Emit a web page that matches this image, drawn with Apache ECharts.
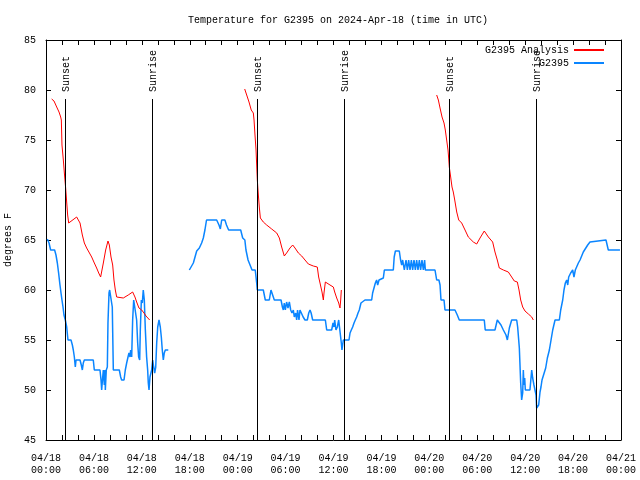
<!DOCTYPE html>
<html>
<head>
<meta charset="utf-8">
<script src="https://cdn.jsdelivr.net/npm/echarts@6/dist/echarts.min.js"></script>
<style>
  html, body { margin: 0; padding: 0; background: #fff; }
  #chart { width: 640px; height: 480px; }
</style>
</head>
<body>
<div id="chart"></div>
<script>
// ---- data (hours since 2024-04-18 00:00 UTC, degrees F) ----
const titleText = 'Temperature for G2395 on 2024-Apr-18 (time in UTC)';
const xTickLabels = ['04/18\n00:00','04/18\n06:00','04/18\n12:00','04/18\n18:00',
  '04/19\n00:00','04/19\n06:00','04/19\n12:00','04/19\n18:00',
  '04/20\n00:00','04/20\n06:00','04/20\n12:00','04/20\n18:00','04/21\n00:00'];
const sunHours = [2.42, 13.3, 26.45, 37.33, 50.52, 61.4];
const sunLabels = ['Sunset','Sunrise','Sunset','Sunrise','Sunset','Sunrise'];

const analysisDay1 = [[0.71,79.1],[1.0,78.9],[1.34,78.3],[1.63,77.8],[1.84,77.3],[1.92,77.0],[2.0,74.5],[2.17,73],[2.3,71.7],[2.46,70.2],[2.59,68.8],[2.71,67.5],[2.84,66.7],[3.84,67.3],[4.05,67.3],[4.26,66.7],[4.55,65.5],[4.8,64.7],[5.09,64.2],[5.72,63.3],[6.05,62.7],[6.34,62.2],[6.6,61.7],[6.84,61.3],[7.18,62.7],[7.47,64],[7.76,64.9],[7.93,64.5],[8.14,63.3],[8.35,62.5],[8.51,61],[8.68,60],[8.85,59.3],[9.68,59.2],[10.3,59.5],[10.85,59.8],[11.14,59.3],[11.35,58.8],[11.64,58.2],[11.98,58],[12.27,57.7],[12.52,57.4],[12.73,57.2],[12.98,57.0]];
const analysisDay2 = [[24.88,80.1],[25.13,79.5],[25.42,78.8],[25.7,78],[25.96,77.7],[26.05,77],[26.17,75.5],[26.3,74],[26.38,72.5],[26.46,71],[26.59,69.5],[26.71,68.3],[26.84,67.2],[27.21,66.8],[27.63,66.5],[28.26,66.1],[28.89,65.7],[29.22,65.2],[29.51,64.3],[29.84,63.4],[30.13,63.7],[30.55,64.2],[30.89,64.5],[31.18,64.2],[31.6,63.7],[32.02,63.4],[32.43,63],[32.85,62.6],[33.47,62.4],[33.97,62.3],[34.14,61.3],[34.31,60.7],[34.56,59.8],[34.73,59],[34.81,59.7],[34.98,60.8],[35.23,60.7],[35.56,60.5],[35.98,60.3],[36.15,59.8],[36.4,59.2],[36.65,58.7],[36.81,58.2],[36.9,59],[36.98,60]];
const analysisDay3 = [[48.92,79.5],[49.13,79],[49.34,78.2],[49.59,77.3],[49.84,76.7],[50.0,76],[50.17,75],[50.34,74],[50.42,73.2],[50.5,72.3],[50.67,71.3],[50.84,70.3],[51.0,69.8],[51.18,69],[51.43,67.8],[51.68,67],[52.05,66.7],[52.47,66],[52.88,65.3],[53.51,64.8],[53.93,64.6],[54.35,65.2],[54.88,65.9],[55.39,65.3],[55.93,64.8],[56.22,63.8],[56.51,63],[56.76,62.2],[57.27,62],[57.89,61.8],[58.31,61.3],[58.64,60.9],[59.02,60.8],[59.23,60],[59.44,59],[59.69,58.3],[59.98,57.9],[60.4,57.6],[60.82,57.3],[61.02,57]];

const stationPart1 = [[0.17,65.1],[0.38,64.7],[0.58,64],[1.08,64],[1.25,63.5],[1.42,62.7],[1.58,61.7],[1.75,60.5],[1.88,59.7],[2.0,59],[2.13,58.3],[2.25,57.5],[2.42,57],[2.59,56.3],[2.75,55],[3.13,55],[3.3,54.5],[3.42,54],[3.55,53.3],[3.67,52.3],[3.76,53],[4.26,53],[4.42,52.5],[4.55,52],[4.67,52.7],[4.8,53],[5.92,53],[6.05,52],[6.76,52],[6.89,51],[6.97,50],[7.1,51.3],[7.18,52],[7.3,50.5],[7.38,52],[7.43,50],[7.55,52],[7.68,52.3],[7.76,56.7],[7.89,59.7],[7.97,60],[8.14,60],[8.3,58.3],[8.43,52],[9.18,52],[9.35,51.3],[9.47,51],[9.77,51],[9.93,52],[10.1,52.7],[10.27,53.3],[10.39,53.7],[10.52,53.3],[10.6,54],[10.73,53.3],[10.85,57],[10.98,59],[11.23,59],[11.35,57],[11.48,54.7],[11.6,53.3],[11.73,53],[11.81,56],[11.94,59],[12.06,58.7],[12.18,60],[12.31,59],[12.44,56],[12.6,53.3],[12.73,52],[12.81,50.7],[12.9,50],[13.02,51.3],[13.23,52],[13.36,53],[13.48,52.3],[13.61,51.7],[13.74,52.3],[13.86,54.7],[13.99,56.3],[14.15,57],[14.31,56.3],[14.44,55.3],[14.56,54],[14.69,53],[14.81,53.7],[14.94,54],[15.31,54]];
const stationPart2 = [[17.95,62],[18.2,62.1],[18.45,62.7],[18.66,63.3],[18.87,63.9],[19.2,64.2],[19.49,64.7],[19.7,65.2],[19.9,66],[20.1,67],[21.37,67],[21.66,66.5],[21.83,66.1],[22.0,67],[22.4,67],[22.6,66.5],[22.87,66],[24.38,66],[24.63,65.2],[24.9,65],[25.04,64],[25.3,63],[25.5,62.8],[25.8,62],[26.2,62],[26.38,60.7],[26.46,60],[27.21,60],[27.46,59],[27.96,59],[28.17,60],[28.38,60],[28.59,59],[29.43,59],[29.6,58.3],[29.72,58],[29.84,58.7],[29.97,58],[30.13,58.8],[30.3,58.2],[30.47,58.8],[30.64,58],[30.8,57.7],[30.97,58],[31.09,57.3],[31.26,57.7],[31.39,57],[31.5,58],[31.68,57],[31.8,58],[32.05,58],[32.2,57.3],[32.43,57],[32.72,57],[32.9,57.7],[33.06,58],[33.2,57.7],[33.39,57],[34.98,57],[35.15,56],[35.77,56],[35.94,56.7],[36.06,56.3],[36.15,57],[36.31,56],[36.48,56.3],[36.65,57],[36.9,57],[36.98,54.7],[37.06,54],[37.23,55],[37.94,55],[38.07,55.7],[38.23,56],[38.4,56.3],[38.57,56.7],[38.73,57],[38.9,57.3],[39.07,57.7],[39.23,58],[39.44,58.7],[39.65,58.9],[39.94,59],[40.78,59],[40.9,59.7],[41.07,60.2],[41.24,60.7],[41.4,61],[41.53,60.5],[41.7,61],[41.82,61.1],[42.24,61.2],[42.37,62],[43.49,62],[43.6,63.3],[43.75,63.9],[44.24,63.9],[44.4,63],[44.54,62.5],[44.66,63],[44.87,62],[45.08,63],[45.25,62],[45.41,63],[45.58,62],[45.75,63],[45.91,62],[46.08,63],[46.25,62],[46.41,63],[46.58,62],[46.75,63],[46.91,62],[47.08,63],[47.25,62],[47.41,63],[47.5,62],[48.71,62],[48.92,61],[49.2,61],[49.34,60.5],[49.46,59],[49.84,59],[49.96,58],[51.21,58],[51.5,57.5],[51.75,57],[54.88,57],[55.0,56],[56.22,56],[56.51,57],[56.68,57],[56.97,56.5],[57.27,56],[57.6,55.5],[57.77,55],[58.02,56.2],[58.31,57],[58.94,57],[59.06,56.3],[59.27,54.2],[59.44,50.7],[59.56,49],[59.69,49.7],[59.77,52],[59.85,50.5],[59.94,51.2],[60.02,50],[60.6,50],[60.82,52],[60.94,51.2],[61.1,50.5],[61.23,50],[61.36,49.5],[61.44,48.2],[61.57,48],[61.69,48.5],[61.86,49.8],[61.98,50.3],[62.11,51],[62.36,51.2],[62.57,52.2],[62.78,53.2],[63.03,54],[63.24,55],[63.45,56],[63.74,57],[64.28,57],[64.45,58],[64.7,59],[64.86,60],[65.03,60.7],[65.2,61],[65.33,60.5],[65.45,61.3],[65.7,61.7],[65.95,62],[66.11,61.3],[66.28,62],[66.66,62.7],[66.87,63],[67.28,63.8],[67.49,64],[67.83,64.5],[68.12,64.8],[68.33,65],[70.12,65],[70.41,64],[71.87,64]];

// ---- chart ----
const FONT = '"Liberation Mono", "DejaVu Sans Mono", monospace';
const brk = (a, b) => [(a[a.length - 1][0] + b[0][0]) / 2, null];
const analysisData = [].concat(analysisDay1, [brk(analysisDay1, analysisDay2)], analysisDay2,
  [brk(analysisDay2, analysisDay3)], analysisDay3);
const stationData = [].concat(stationPart1, [brk(stationPart1, stationPart2)], stationPart2);

const chart = echarts.init(document.getElementById('chart'), null, { renderer: 'canvas' });

const axisCommon = {
  axisLine: { show: true, onZero: false, lineStyle: { color: '#000', width: 1 } },
  axisTick: { show: true, inside: true, length: 5, lineStyle: { color: '#000' } },
  splitLine: { show: false }
};

chart.setOption({
  animation: false,
  backgroundColor: '#fff',
  textStyle: { fontFamily: FONT },
  title: {
    text: titleText, left: 333, top: 10, textAlign: 'center',
    textStyle: { fontFamily: FONT, fontSize: 10, fontWeight: 'normal', color: '#000' }
  },
  legend: {
    orient: 'vertical', right: 30, top: 40, align: 'right',
    itemWidth: 30, itemHeight: 12, itemGap: 3,
    itemStyle: { opacity: 0 },
    data: ['G2395 Analysis', 'G2395'],
    textStyle: { fontFamily: FONT, fontSize: 10, color: '#000' }
  },
  grid: { left: 46, right: 19, top: 40, bottom: 40, containLabel: false, outerBoundsMode: 'none' },
  xAxis: [
    Object.assign({}, axisCommon, {
      type: 'value', min: 0, max: 72, interval: 6, position: 'bottom',
      minorTick: { show: true, splitNumber: 3, length: 5, lineStyle: { color: '#000' } },
      axisLabel: {
        margin: 12, fontFamily: FONT, fontSize: 10, color: '#000', lineHeight: 12,
        formatter: v => xTickLabels[Math.round(v / 6)]
      }
    }),
    Object.assign({}, axisCommon, {
      type: 'value', min: 0, max: 72, interval: 6, position: 'top',
      minorTick: { show: true, splitNumber: 3, length: 5, lineStyle: { color: '#000' } },
      axisLabel: { show: false }
    })
  ],
  yAxis: [
    Object.assign({}, axisCommon, {
      type: 'value', min: 45, max: 85, interval: 5, position: 'left',
      name: 'degrees F', nameLocation: 'middle', nameGap: 29, nameRotate: 90,
      nameTextStyle: { fontFamily: FONT, fontSize: 10, color: '#000' },
      axisLabel: { margin: 10, fontFamily: FONT, fontSize: 10, color: '#000' }
    }),
    Object.assign({}, axisCommon, {
      type: 'value', min: 45, max: 85, interval: 5, position: 'right',
      axisLabel: { show: false }
    })
  ],
  series: [
    {
      name: 'G2395 Analysis', type: 'line', data: analysisData, symbol: 'none',
      connectNulls: false, lineStyle: { color: '#ff0000', width: 1 },
      itemStyle: { color: '#ff0000' }, z: 3
    },
    {
      name: 'G2395', type: 'line', data: stationData, symbol: 'none',
      connectNulls: false, lineStyle: { color: '#0a85ff', width: 1.5 },
      itemStyle: { color: '#0a85ff' }, z: 2
    },
    {
      name: 'sun', type: 'custom', z: 4, silent: true,
      data: sunHours.map((h, i) => [h, i]),
      renderItem: function (params, api) {
        const h = api.value(0);
        const lab = sunLabels[api.value(1)];
        const p0 = api.coord([h, 45]);
        const p1 = api.coord([h, 79.1]);
        const x = Math.round(p0[0]) + 0.5;
        return {
          type: 'group',
          children: [
            { type: 'line', shape: { x1: x, y1: p0[1], x2: x, y2: p1[1] },
              style: { stroke: '#000', lineWidth: 1 } },
            { type: 'text', x: x + 1, y: p1[1] - 7, rotation: Math.PI / 2,
              style: { text: lab, fill: '#000', font: '10px ' + FONT,
                       align: 'left', verticalAlign: 'middle',
                       textAlign: 'left', textVerticalAlign: 'middle' } }
          ]
        };
      }
    }
  ]
});
</script>
</body>
</html>
